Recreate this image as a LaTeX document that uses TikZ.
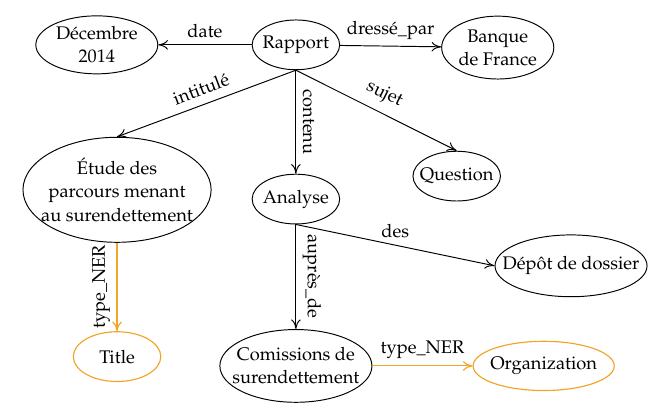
\documentclass[tikz,border=0pt]{standalone}
\usepackage[T1]{fontenc}
\usepackage{mathpazo}
\usepackage{xcolor}
\usepackage{tikz}
\usetikzlibrary{positioning,shapes.geometric,arrows.meta}
\tikzset{c-ellipse/.style={ellipse, minimum width=1.6cm, minimum height=0.91cm, inner xsep=-8pt, inner ysep=-1pt, align=center, draw=black, line width=0.5pt, font=\fontsize{9.5}{12}\selectfont},
c-ellipse-ner/.style={c-ellipse, draw=c_ner, line width=0.6pt},
c-label/.style={font=\fontsize{9.5}{12}\selectfont},
arrow/.style={line width=0.5pt,-{To[length=5pt,width=5pt]}},
arrow-ner/.style={arrow, draw=c_ner, line width=0.6pt}}
\definecolor{c_ner}{RGB}{242,164,40}

\begin{document}
\begin{tikzpicture}[node distance = 2.8cm]
\useasboundingbox (-5.41,-6.60) rectangle (6.62,0.82);
\node (n0) [c-ellipse] {Rapport};
\node (n1) [c-ellipse, left of=n0, xshift=-0.84cm, minimum width=2.23cm, minimum height=1.06cm] {
D\'ecembre\\
2014
};
\node (n2) [c-ellipse, right of=n0, xshift=0.89cm, yshift=-0.05cm, minimum width=2.05cm, minimum height=1.15cm] {
Banque\\
de France
};
\node (n3) [c-ellipse, below of=n0, xshift=-3.27cm, yshift=0.15cm, minimum width=3.44cm, minimum height=1.92cm] {
\'Etude des\\
parcours menant\\
au surendettement
};
\node (n4) [c-ellipse, below of=n0, yshift=-0.02cm] {Analyse};
\node (n5) [c-ellipse, below of=n0, xshift=2.94cm, yshift=0.4cm] {Question};
\node (n6) [c-ellipse, right of=n4, xshift=2.23cm, yshift=-1.22cm, minimum width=2.78cm, minimum height=1.13cm] {D\'ep\^ot de dossier};
\node (n7) [c-ellipse-ner, below of=n3, yshift=-0.25cm] {Title};
\node (n8) [c-ellipse, below of=n4, yshift=-0.25cm, minimum width=2.78cm, minimum height=1.33cm] {
Comissions de\\
surendettement
};
\node (n9) [c-ellipse-ner, right of=n8, xshift=1.73cm, minimum width=2.58cm, minimum height=0.9cm] {Organization};
\draw [arrow] (n0) -- node[c-label, above] {date} (n1);
\draw [arrow] (n0) -- node[c-label, above] {dress\'e\_par} (n2);
\draw [arrow] (n0.south) -- node[c-label, above=1pt, sloped] {intitul\'e} (n3.north);
\draw [arrow] (n0.south) -- node[c-label, rotate=-90, anchor=south] {contenu} (n4.north);
\draw [arrow] (n0.south) -- node[c-label, above=1pt, sloped] {sujet} (n5.north);
\draw [arrow] (n4.south) -- node[c-label, above] {des} (n6.west);
\draw [arrow] (n4.south) -- node[c-label, rotate=-90, anchor=south] {aupr\`es\_de} (n8.north);
\draw [arrow-ner] (n3.south) -- node[c-label, rotate=90, anchor=south] {type\_NER} (n7.north);
\draw [arrow-ner] (n8) -- node[c-label, above] {type\_NER} (n9);
\end{tikzpicture}
\end{document}
